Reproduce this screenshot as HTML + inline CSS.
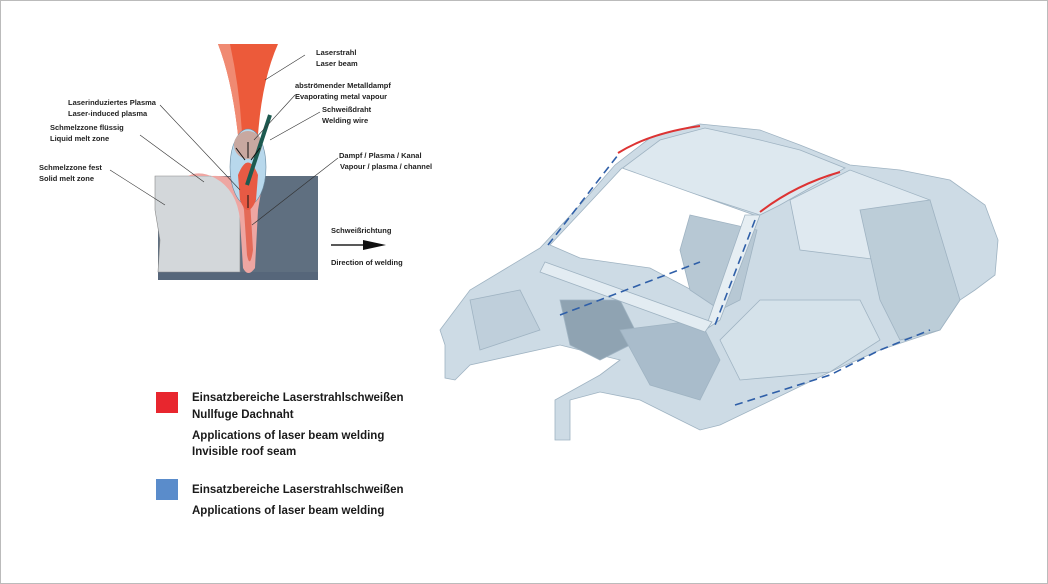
<!DOCTYPE html>
<html><head><meta charset="utf-8"><style>
html,body{margin:0;padding:0;background:#fff}
.wrap{position:relative;width:1048px;height:584px;overflow:hidden;background:#fff}
svg{position:absolute;left:0;top:0}
.t{font-family:"Liberation Sans",sans-serif;font-size:7.5px;font-weight:bold;fill:#222}
.lg{font-family:"Liberation Sans",sans-serif;font-size:11.5px;font-weight:bold;fill:#1a1a1a}
</style></head><body><div class="wrap">
<svg width="1048" height="584" viewBox="0 0 1048 584">
<rect x="0.5" y="0.5" width="1047" height="583" fill="#fff" stroke="#bbb"/>
<!-- welding diagram -->
<rect x="158" y="176" width="160" height="104" fill="#5f6f80"/>
<rect x="158" y="272" width="160" height="8" fill="#56667a"/>
<path d="M155,176 L210,176 L240,180 L240,272 L158,272 L160,240 L155,210 Z" fill="#d3d7da" stroke="#888" stroke-width="0.6"/>
<path d="M188,176 Q200,170 215,178 Q237,190 240,220 L243,268 Q248,278 255,268 L258,210 Q262,185 265,176 L250,176 L245,180 Q225,175 210,176 Z" fill="#eea6a2"/>
<path d="M236,180 Q242,175 246,185 L250,200 L253,250 Q250,270 247,255 L244,210 Q240,190 236,180 Z" fill="#e46a58"/>
<path d="M218,44 L278,44 Q262,80 258,135 L238,135 Q232,80 218,44 Z" fill="#ec5a3a"/>
<path d="M218,44 L230,44 Q240,90 242,135 L238,135 Q232,80 218,44 Z" fill="#f08a72"/>
<ellipse cx="248" cy="167" rx="18" ry="38" fill="#b8d8ec" stroke="#6a8aa0" stroke-width="0.6"/>
<ellipse cx="248" cy="145" rx="14" ry="14" fill="#c8a8a0"/>
<path d="M238,175 Q248,150 258,175 L256,200 Q248,220 240,200 Z" fill="#e85a44"/>
<line x1="247" y1="185" x2="270" y2="115" stroke="#1d5a50" stroke-width="4"/>
<g stroke="#111" stroke-width="1" fill="none">
<line x1="248" y1="158" x2="248" y2="142"/><line x1="245" y1="160" x2="236" y2="148"/><line x1="251" y1="160" x2="260" y2="148"/><line x1="248" y1="208" x2="248" y2="195"/>
</g>
<g stroke="#333" stroke-width="0.6">
<line x1="265" y1="80" x2="305" y2="55"/>
<line x1="254" y1="140" x2="295" y2="95"/>
<line x1="270" y1="140" x2="320" y2="112"/>
<line x1="252" y1="225" x2="338" y2="158"/>
<line x1="240" y1="190" x2="160" y2="105"/>
<line x1="204" y1="182" x2="140" y2="135"/>
<line x1="165" y1="205" x2="110" y2="170"/>
</g>
<text class="t" x="316" y="55">Laserstrahl</text><text class="t" x="316" y="66">Laser beam</text>
<text class="t" x="295" y="88">abströmender Metalldampf</text><text class="t" x="295" y="99">Evaporating metal vapour</text>
<text class="t" x="322" y="112">Schweißdraht</text><text class="t" x="322" y="123">Welding wire</text>
<text class="t" x="68" y="105">Laserinduziertes Plasma</text><text class="t" x="68" y="116">Laser-induced plasma</text>
<text class="t" x="50" y="130">Schmelzzone flüssig</text><text class="t" x="50" y="141">Liquid melt zone</text>
<text class="t" x="39" y="170">Schmelzzone fest</text><text class="t" x="39" y="181">Solid melt zone</text>
<text class="t" x="339" y="158">Dampf / Plasma / Kanal</text><text class="t" x="340" y="169">Vapour / plasma / channel</text>
<text class="t" x="331" y="233">Schweißrichtung</text>
<line x1="331" y1="245" x2="370" y2="245" stroke="#222" stroke-width="1.5"/>
<polygon points="363,240 386,245 363,250" fill="#111"/>
<text class="t" x="331" y="265">Direction of welding</text>
<!-- car body -->
<g stroke="#9fb3c2" stroke-width="0.8">
<path d="M440,330 L470,290 L540,248 L580,205 L615,165 L650,138 L700,124 L760,130 L800,145 L850,165 L900,170 L950,180 L985,205 L998,240 L995,275 L975,290 L960,300 L940,330 L880,350 L830,372 L720,425 L700,430 L680,420 L640,400 L600,392 L570,400 L570,440 L555,440 L555,400 L600,375 L620,360 L560,345 L470,365 L455,380 L445,378 L445,345 Z" fill="#cddbe5"/>
<path d="M620,170 L660,140 L705,128 L760,140 L800,150 L845,168 L780,205 L760,215 Z" fill="#dde8ef"/>
<path d="M550,245 L622,168 L757,216 L720,305 L650,268 L580,258 Z" fill="#ffffff"/>
<path d="M690,215 L757,230 L740,300 L720,310 L690,290 L680,250 Z" fill="#b7c8d4"/>
<path d="M790,200 L850,170 L930,200 L880,260 L800,250 Z" fill="#dfe9f0"/>
<path d="M860,210 L930,200 L960,300 L940,330 L900,340 L880,300 Z" fill="#bccdd8"/>
<path d="M760,300 L860,300 L880,340 L830,372 L740,380 L720,340 Z" fill="#d5e2ea"/>
<path d="M560,300 L620,300 L640,340 L600,360 L570,345 Z" fill="#8fa3b2"/>
<path d="M470,300 L520,290 L540,330 L480,350 Z" fill="#bfcfdb"/>
<path d="M620,330 L700,320 L720,360 L700,400 L650,385 Z" fill="#a9bccb"/>
<path d="M760,215 L720,320 L705,330 L745,215 Z" fill="#e6eef3"/>
<path d="M545,262 L712,322 L705,332 L540,272 Z" fill="#e3ecf2"/>
</g>
<path d="M618,153 Q650,133 700,126" stroke="#d33" stroke-width="2" fill="none"/>
<path d="M760,212 Q795,185 840,172" stroke="#d33" stroke-width="2" fill="none"/>
<g stroke="#2f5fa8" stroke-width="1.6" fill="none" stroke-dasharray="8,5">
<path d="M548,245 L618,155"/>
<path d="M755,220 L715,325"/>
<path d="M735,405 L830,375 L880,350 L930,330"/>
<path d="M560,315 L700,262"/>
</g>
<!-- legend -->
<rect x="156" y="392" width="22" height="21" fill="#e8262e"/>
<rect x="156" y="479" width="22" height="21" fill="#5a8ccb"/>
<text class="lg" x="192" y="401">Einsatzbereiche Laserstrahlschweißen</text>
<text class="lg" x="192" y="418">Nullfuge Dachnaht</text>
<text class="lg" x="192" y="439">Applications of laser beam welding</text>
<text class="lg" x="192" y="455">Invisible roof seam</text>
<text class="lg" x="192" y="493">Einsatzbereiche Laserstrahlschweißen</text>
<text class="lg" x="192" y="514">Applications of laser beam welding</text>
</svg></div></body></html>
